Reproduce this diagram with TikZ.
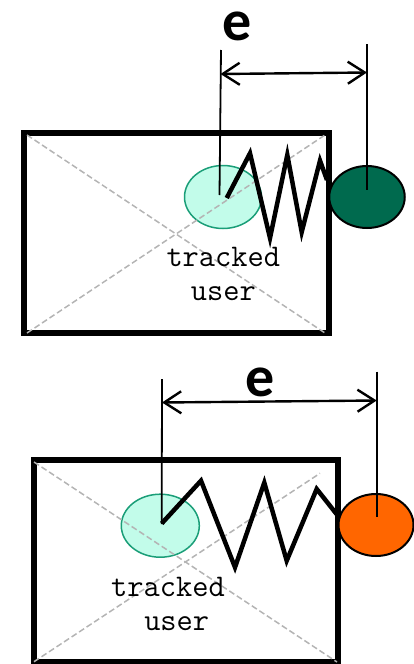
\documentclass[tikz,border=0pt]{standalone}
\usepackage{fontspec}
\newfontfamily\efont{Carlito}
\usetikzlibrary{shapes.geometric,arrows.meta}

\definecolor{mintfill}{HTML}{C2FCEA}
\definecolor{mintline}{HTML}{1A9E78}
\definecolor{pinegreen}{HTML}{006A4E}
\definecolor{vivorange}{HTML}{FF6600}
\definecolor{diaggray}{HTML}{B4B4B4}

\tikzset{
  frame/.style={draw=black,line width=5.5pt},
  diag/.style={draw=diaggray,line width=1.5pt,dash pattern=on 6pt off 3pt},
  userblob/.style={ellipse,draw=mintline,fill=mintfill,line width=1.5pt,inner sep=0pt},
  anchorblob/.style={ellipse,draw=black,line width=2pt,inner sep=0pt},
  spring/.style={draw=black,line width=4.5pt},
  guide/.style={draw=black,line width=1.8pt},
  dim/.style={draw=black,line width=2.4pt,{Straight Barb[length=17pt,width=22pt]}-{Straight Barb[length=17pt,width=22pt]}},
  elabel/.style={font=\efont\bfseries\fontsize{58}{58}\selectfont,inner sep=0pt,anchor=base,text height=28pt},
  caption/.style={font=\ttfamily\fontsize{31.5}{33}\selectfont,inner sep=0pt,anchor=base}
}

\begin{document}
\begin{tikzpicture}[x=1pt,y=-1pt]
\useasboundingbox (0,0) rectangle (413,664);

% ---------- upper panel ----------
\draw[frame] (24,133) rectangle (329,333);
\node[userblob,minimum width=77pt,minimum height=63pt] (u1) at (223,197) {};
\draw[diag] (27,135) -- (325,333);
\draw[diag] (27,333) -- (325,135);
\coordinate (s1) at (226.7,198);
\coordinate (s1end) at (327,180);
\draw[spring] (s1) -- (250,153.3) -- (270,238) -- (287.3,155) -- (301.7,232)
  -- (320,160.7) -- (s1end);
\node[anchorblob,fill=pinegreen,minimum width=75.5pt,minimum height=62pt] (a1) at (367,197) {};
\coordinate (g1top) at (221,50);
\coordinate (g1bot) at (219.5,195);
\coordinate (h1top) at (367,44);
\coordinate (h1bot) at (367,190);
\draw[guide] (g1top) -- (g1bot);
\draw[guide] (h1top) -- (h1bot);
\coordinate (d1l) at (220.5,74);
\coordinate (d1r) at (367,72.5);
\draw[dim] (d1l) -- (d1r);
\node[elabel] (e1) at (237,40.5) {e};
\node[caption] (t1) at (223.3,266.7) {tracked};
\node[caption] (v1) at (223.3,300) {user};

% ---------- lower panel ----------
\draw[frame] (34,460) rectangle (338,661.5);
\node[userblob,minimum width=78pt,minimum height=63pt] (u2) at (160.3,525.7) {};
\draw[diag] (34,462) -- (337,662);
\draw[diag] (34,661.7) -- (320,473.3);
\coordinate (s2) at (161.7,523.5);
\coordinate (s2end) at (337.3,515);
\draw[spring] (s2) -- (201,480.7) -- (235,567.3) -- (264.3,482.7) -- (286.7,560.7)
  -- (316.7,489) -- (s2end);
\node[anchorblob,fill=vivorange,minimum width=75pt,minimum height=62pt] (a2) at (376,525) {};
\coordinate (g2top) at (162,379);
\coordinate (g2bot) at (161.7,524);
\coordinate (h2top) at (376.7,371.7);
\coordinate (h2bot) at (376.7,516.7);
\draw[guide] (g2top) -- (g2bot);
\draw[guide] (h2top) -- (h2bot);
\coordinate (d2l) at (162,402.5);
\coordinate (d2r) at (376.7,400.5);
\draw[dim] (d2l) -- (d2r);
\node[elabel] (e2) at (260,396) {e};
\node[caption] (t2) at (168,596.7) {tracked};
\node[caption] (v2) at (176.7,630) {user};
\end{tikzpicture}
\end{document}
